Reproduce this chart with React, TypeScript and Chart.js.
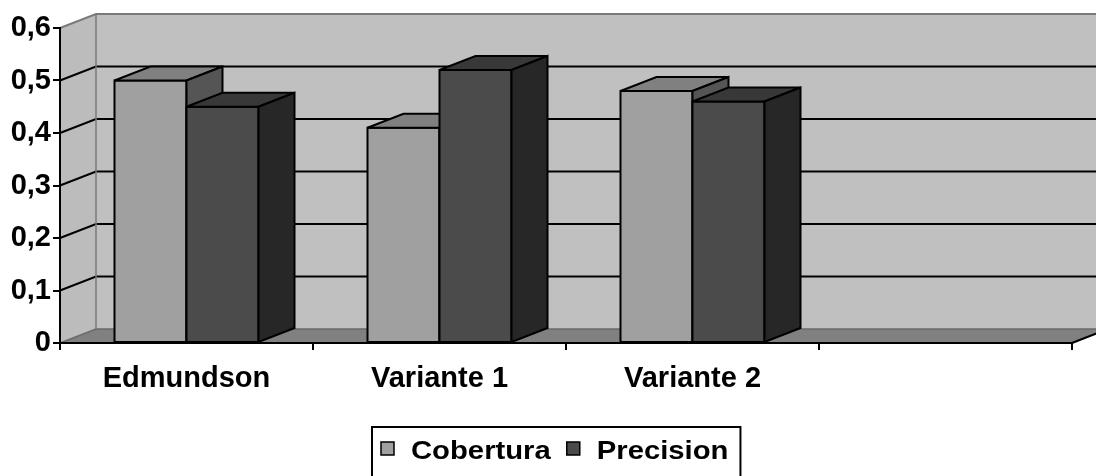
import React, { useEffect, useRef } from "react";
import { Chart, registerables } from "chart.js";

Chart.register(...registerables);

// ---- data ----
const categories = ["Edmundson", "Variante 1", "Variante 2", ""];
const seriesNames = ["Cobertura", "Precision"];
const cobertura = [0.5, 0.41, 0.48, null];
const precision = [0.45, 0.52, 0.46, null];
const yTickValues = [0, 0.1, 0.2, 0.3, 0.4, 0.5, 0.6];
const yTickLabels = ["0", "0,1", "0,2", "0,3", "0,4", "0,5", "0,6"];

// ---- styles ----
const FONT = "'Liberation Sans', Arial, Helvetica, sans-serif";
const FRONT = ["#a0a0a0", "#4b4b4b"];
const TOP = ["#808080", "#383838"];
const SIDE = ["#555555", "#272727"];
const WALL = "#c0c0c0";
const SIDE_WALL = "#bcbcbc";
const FLOOR = "#808080";
const EDGE = "#7a7a7a";
const DX = 36;
const DY = -14;

type Pt = [number, number];

function poly(ctx: CanvasRenderingContext2D, pts: Pt[], fill?: string, stroke?: string, lw = 2) {
  ctx.beginPath();
  ctx.moveTo(pts[0][0], pts[0][1]);
  for (let i = 1; i < pts.length; i++) ctx.lineTo(pts[i][0], pts[i][1]);
  ctx.closePath();
  if (fill) {
    ctx.fillStyle = fill;
    ctx.fill();
  }
  if (stroke) {
    ctx.strokeStyle = stroke;
    ctx.lineWidth = lw;
    ctx.lineJoin = "miter";
    ctx.miterLimit = 3;
    ctx.stroke();
  }
}

function line(ctx: CanvasRenderingContext2D, pts: Pt[], color: string, lw: number) {
  ctx.beginPath();
  ctx.moveTo(pts[0][0], pts[0][1]);
  for (let i = 1; i < pts.length; i++) ctx.lineTo(pts[i][0], pts[i][1]);
  ctx.strokeStyle = color;
  ctx.lineWidth = lw;
  ctx.lineJoin = "miter";
  ctx.miterLimit = 3;
  ctx.stroke();
}

const threeD = {
  id: "threeD",
  beforeDraw(chart: any) {
    const { ctx, chartArea: a, scales } = chart;
    const ys = scales.y;
    ctx.save();
    // back wall
    poly(ctx, [
      [a.left + DX, a.top + DY],
      [a.right + DX, a.top + DY],
      [a.right + DX, a.bottom + DY],
      [a.left + DX, a.bottom + DY],
    ], WALL);
    // left wall
    poly(ctx, [
      [a.left, a.top],
      [a.left + DX, a.top + DY],
      [a.left + DX, a.bottom + DY],
      [a.left, a.bottom],
    ], SIDE_WALL);
    // floor
    poly(ctx, [
      [a.left, a.bottom],
      [a.left + DX, a.bottom + DY],
      [a.right + DX, a.bottom + DY],
      [a.right, a.bottom],
    ], FLOOR);
    // gridlines
    ys.ticks.forEach((t: any) => {
      if (t.value <= ys.min || t.value >= ys.max) return;
      const py = ys.getPixelForValue(t.value);
      line(ctx, [[a.left, py], [a.left + DX, py + DY], [a.right + DX, py + DY]], "#000", 2);
    });
    // wall edges
    line(ctx, [[a.left, a.top], [a.left + DX, a.top + DY], [a.right + DX, a.top + DY]], EDGE, 2);
    line(ctx, [[a.left + DX, a.top + DY], [a.left + DX, a.bottom + DY]], EDGE, 1.5);
    line(ctx, [[a.left, a.bottom], [a.left + DX, a.bottom + DY], [a.right + DX, a.bottom + DY]], "#6a6a6a", 1.5);
    // floor front-right edge
    line(ctx, [[a.right, a.bottom], [a.right + DX, a.bottom + DY]], "#000", 2);
    ctx.restore();
  },
  beforeDatasetsDraw(chart: any) {
    const { ctx } = chart;
    ctx.save();
    chart.data.datasets.forEach((ds: any, di: number) => {
      const meta = chart.getDatasetMeta(di);
      meta.data.forEach((bar: any, j: number) => {
        if (ds.data[j] == null) return;
        const { x, y, base, width } = bar;
        const l = x - width / 2;
        const r = x + width / 2;
        // front
        poly(ctx, [[l, y], [r, y], [r, base], [l, base]], FRONT[di], "#000", 2);
        // top
        poly(ctx, [[l, y], [l + DX, y + DY], [r + DX, y + DY], [r, y]], TOP[di], "#000", 2);
        // side
        poly(ctx, [[r, y], [r + DX, y + DY], [r + DX, base + DY], [r, base]], SIDE[di], "#000", 2);
      });
    });
    ctx.restore();
    return false;
  },
  afterDraw(chart: any) {
    const { ctx } = chart;
    ctx.save();
    const sx = 1.17;
    const boxLeft = 372;
    const boxTop = 427;
    const baseline = 459;
    let x = 381;
    let lastEnd = x;
    ctx.font = `bold 25px ${FONT}`;
    ctx.textBaseline = "alphabetic";
    chart.data.datasets.forEach((ds: any, i: number) => {
      ctx.fillStyle = FRONT[i];
      ctx.fillRect(x, 442, 13, 13);
      ctx.strokeStyle = "#000";
      ctx.lineWidth = 1.5;
      ctx.strokeRect(x, 442, 13, 13);
      x += 13 + 17;
      const w = ctx.measureText(ds.label).width * sx;
      ctx.save();
      ctx.translate(x, baseline);
      ctx.scale(sx, 1);
      ctx.fillStyle = "#000";
      ctx.fillText(ds.label, 0, 0);
      ctx.restore();
      x += w;
      lastEnd = x;
      x += 16;
    });
    ctx.strokeStyle = "#000";
    ctx.lineWidth = 2;
    ctx.strokeRect(boxLeft, boxTop, lastEnd + 12 - boxLeft, 60);
    ctx.restore();
  },
};

export default function App() {
  const ref = useRef<HTMLCanvasElement | null>(null);

  useEffect(() => {
    if (!ref.current) return;
    const tickFont = { family: FONT, size: 29, weight: "bold" as const };
    const chart = new Chart(ref.current, {
      type: "bar",
      data: {
        labels: categories,
        datasets: [
          { label: seriesNames[0], data: cobertura, backgroundColor: FRONT[0] },
          { label: seriesNames[1], data: precision, backgroundColor: FRONT[1] },
        ],
      },
      options: {
        responsive: false,
        animation: false,
        events: [],
        layout: { padding: { top: 28, right: 24, left: 0, bottom: 0 } },
        datasets: {
          bar: { categoryPercentage: 144 / 253, barPercentage: 1 },
        },
        plugins: {
          legend: { display: false },
          tooltip: { enabled: false },
        },
        scales: {
          x: {
            offset: true,
            grid: {
              display: true,
              offset: true,
              drawOnChartArea: false,
              drawTicks: true,
              tickLength: 7,
              color: "#000",
              lineWidth: 2,
            },
            border: { display: true, color: "#000", width: 2 },
            ticks: {
              color: "#000",
              font: tickFont,
              padding: 12,
              maxRotation: 0,
              autoSkip: false,
            },
            afterFit: (s: any) => {
              s.height = 133;
            },
          },
          y: {
            min: 0,
            max: 0.6,
            afterBuildTicks: (s: any) => {
              s.ticks = yTickValues.map((v) => ({ value: v }));
            },
            grid: {
              drawOnChartArea: false,
              drawTicks: true,
              tickLength: 7,
              color: "#000",
              lineWidth: 2,
            },
            border: { display: true, color: "#000", width: 2 },
            ticks: {
              color: "#000",
              font: tickFont,
              padding: 2,
              callback: (_v: any, i: number) => yTickLabels[i],
            },
            afterFit: (s: any) => {
              s.width = 60;
            },
          },
        },
      },
      plugins: [threeD],
    });
    return () => chart.destroy();
  }, []);

  return (
    <div style={{ position: "fixed", left: 0, top: 0, width: 1096, height: 476, background: "#fff" }}>
      <canvas ref={ref} width={1096} height={476} style={{ display: "block" }} />
    </div>
  );
}
